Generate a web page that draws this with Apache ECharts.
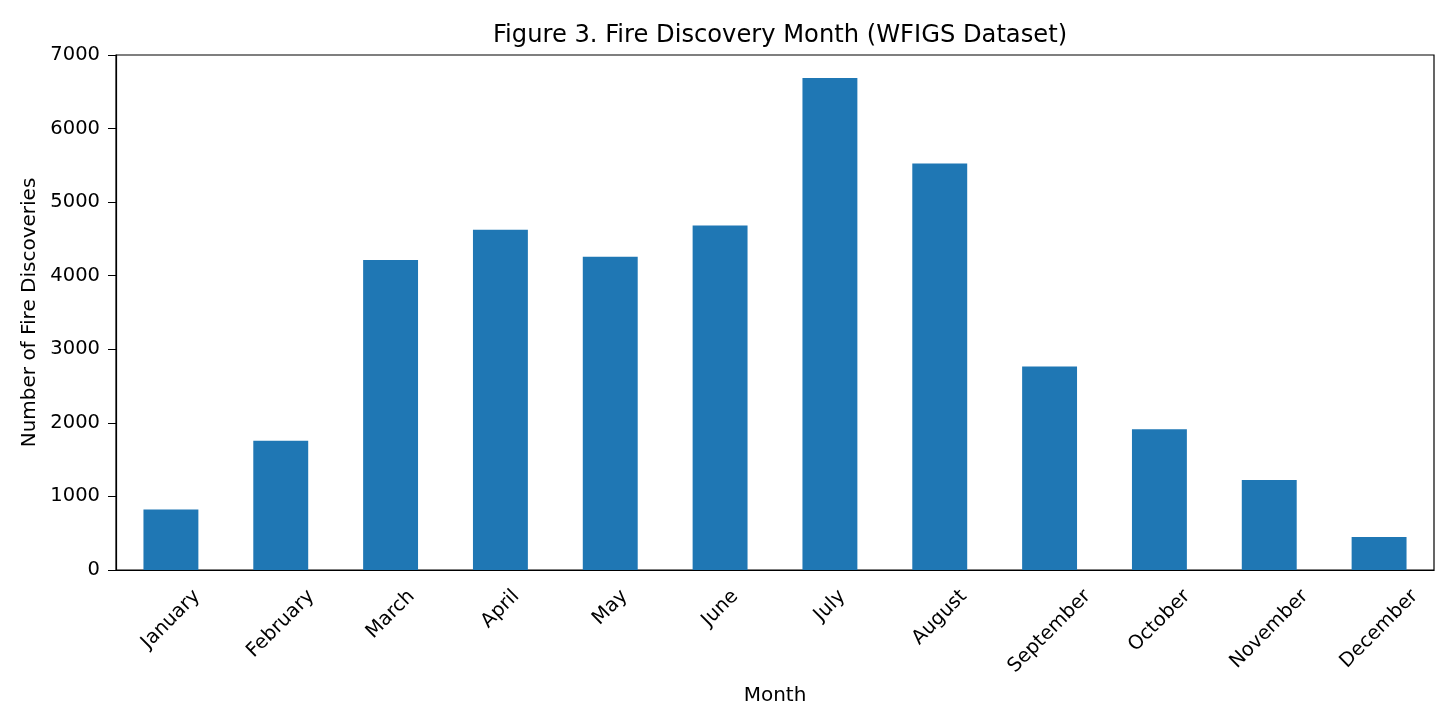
<!DOCTYPE html>
<html>
    <head>
        <meta charset="utf-8">
        <script src="https://cdn.jsdelivr.net/npm/echarts@6/dist/echarts.min.js"></script>
        <style>
            html, body { margin: 0; padding: 0; background: #fff; }
            #main { width: 1456px; height: 728px; }
        </style>
    </head>
    <body>
        <div id="main"></div>
        <script>
            var months = [
                'January', 'February', 'March', 'April', 'May', 'June',
                'July', 'August', 'September', 'October', 'November', 'December'
            ];
            var discoveries = [
                823, 1757, 4214, 4626, 4258, 4681,
                6687, 5525, 2765, 1912, 1222, 449
            ];

            var font = 'DejaVu Sans';
            var tickFont = 19.5;
            var labelFont = tickFont + 'px "' + font + '"';

            var ctx = document.createElement('canvas').getContext('2d');
            ctx.font = labelFont;

            // matplotlib rotates month labels by 45deg and centres the rotated box
            // under the tick, so place each label centre below its category point
            function monthLabel(params, api) {
                var name = months[params.dataIndex];
                var len = ctx.measureText(name).width;
                var pt = api.coord([api.value(0), 0]);
                return {
                    type: 'text',
                    x: pt[0],
                    y: pt[1] + 23.3 + 0.354 * len,
                    rotation: Math.PI / 4,
                    style: {
                        text: name,
                        font: labelFont,
                        fill: '#000',
                        align: 'center',
                        verticalAlign: 'middle'
                    }
                };
            }

            var chart = echarts.init(document.getElementById('main'));

            chart.setOption({
                backgroundColor: '#fff',
                animation: false,
                title: {
                    text: 'Figure 3. Fire Discovery Month (WFIGS Dataset)',
                    left: 775,
                    top: 19,
                    textAlign: 'center',
                    textStyle: {
                        fontFamily: font,
                        fontSize: 24.2,
                        fontWeight: 'normal',
                        color: '#000'
                    }
                },
                grid: {
                    left: 116,
                    right: 22,
                    top: 55,
                    bottom: 158,
                    outerBoundsMode: 'none',
                    show: true,
                    borderColor: '#000',
                    borderWidth: 1.2
                },
                xAxis: {
                    type: 'category',
                    data: months,
                    name: 'Month',
                    nameLocation: 'middle',
                    nameGap: 116,
                    nameTextStyle: { fontFamily: font, fontSize: 20, color: '#000' },
                    axisLine: { lineStyle: { color: '#000', width: 1.2 } },
                    axisTick: { alignWithLabel: true, length: 7, lineStyle: { color: '#000' } },
                    axisLabel: { show: false }
                },
                yAxis: {
                    type: 'value',
                    min: 0,
                    max: 7000,
                    interval: 1000,
                    name: 'Number of Fire Discoveries',
                    nameLocation: 'middle',
                    nameGap: 75,
                    nameTextStyle: { fontFamily: font, fontSize: 20, color: '#000' },
                    splitLine: { show: false },
                    axisLine: { show: true, lineStyle: { color: '#000', width: 1.2 } },
                    axisTick: { show: true, length: 8, lineStyle: { color: '#000' } },
                    axisLabel: {
                        margin: 16,
                        fontFamily: font,
                        fontSize: tickFont,
                        color: '#000',
                        formatter: function (v) { return String(v); }
                    }
                },
                series: [{
                    type: 'bar',
                    data: discoveries,
                    barWidth: '50%',
                    itemStyle: { color: '#1f77b4' }
                }, {
                    type: 'custom',
                    silent: true,
                    clip: false,
                    data: months.map(function (m) { return [m, 0]; }),
                    renderItem: monthLabel
                }]
            });
        </script>
    </body>
</html>
